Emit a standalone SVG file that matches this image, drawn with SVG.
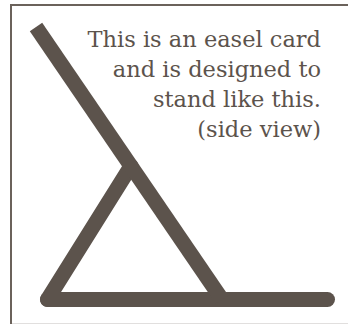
<svg xmlns="http://www.w3.org/2000/svg" width="348" height="324" viewBox="0 0 348 324">
  <style>
    .frame { fill: #ffffff; stroke: #6b625b; stroke-width: 2; }
    .bar { stroke: #5c534c; stroke-width: 15; fill: none; }
    .label { font-family: "DejaVu Serif", "Liberation Serif", serif; font-size: 22.5px; fill: #5c534c; text-anchor: end; }
  </style>
  <rect class="frame" x="11" y="5" width="345" height="319.8"/>
  <g id="easel">
    <line class="bar" x1="47.5" y1="299.5" x2="131" y2="166" stroke-linecap="round"/>
    <line class="bar" x1="47.5" y1="299.5" x2="327.5" y2="299.5" stroke-linecap="round"/>
    <line class="bar" x1="36" y1="27" x2="222" y2="299.5" stroke-linecap="butt"/>
  </g>
  <g id="caption">
    <text class="label" x="321" y="47">This is an easel card</text>
    <text class="label" x="321" y="77">and is designed to</text>
    <text class="label" x="321" y="107">stand like this.</text>
    <text class="label" x="321" y="137">(side view)</text>
  </g>
</svg>
